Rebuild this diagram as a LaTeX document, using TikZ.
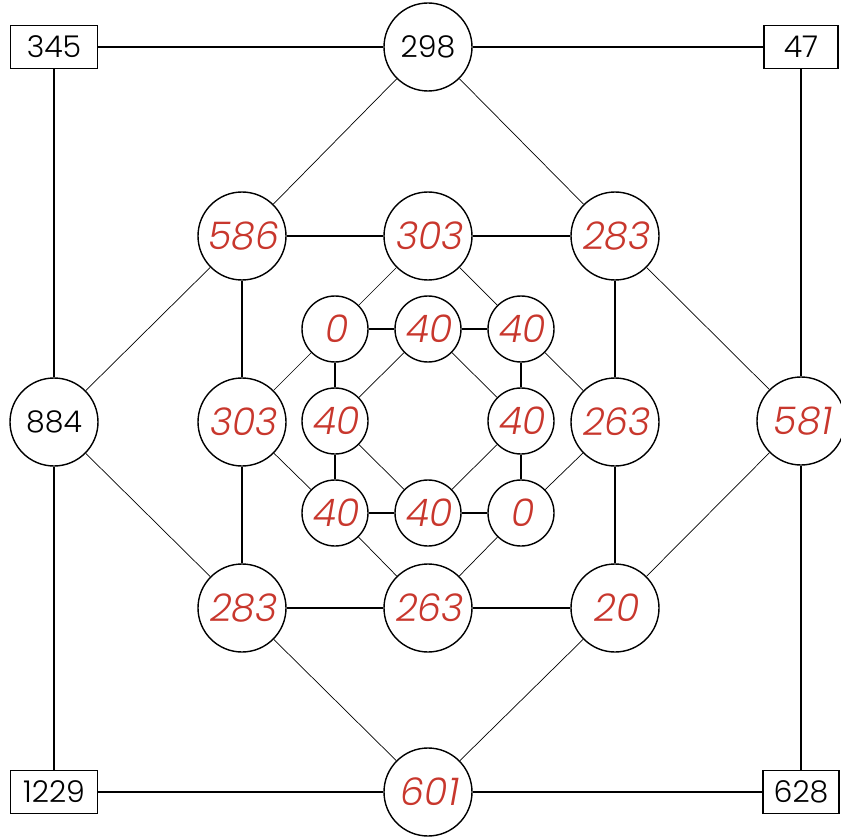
\documentclass[tikz,border=0pt]{standalone}
\usepackage{fontspec}
\setmainfont{Poppins Light}
\newfontfamily\redfnt{Poppins Light}[FakeSlant=0.18]
\definecolor{numred}{RGB}{200,55,45}
\tikzset{
  bignode/.style={circle,draw,line width=1.4pt,minimum size=88pt,inner sep=0pt},
  smallnode/.style={circle,draw,line width=1.4pt,minimum size=66pt,inner sep=0pt},
  boxnode/.style={draw,line width=1.4pt,minimum width=87pt,minimum height=43pt,inner sep=0pt,font=\fontsize{30}{32}\selectfont},
  blk/.style={font=\fontsize{30}{32}\selectfont},
  red/.style={text=numred,font=\redfnt\fontsize{38}{40}\selectfont},
  thick edge/.style={line width=1.5pt},
  thin edge/.style={line width=0.7pt}
}
\begin{document}
\begin{tikzpicture}[x=1pt,y=-1pt]
\useasboundingbox (0,0) rectangle (841,837);
% outer
\node[boxnode] (b345) at (54,47) {345};
\node[boxnode,minimum width=74pt] (b47) at (801,47) {47};
\node[boxnode] (b1229) at (54,792) {1229};
\node[boxnode,minimum width=76pt] (b628) at (801,792) {628};
\node[bignode,blk] (c298) at (428,47) {298};
\node[bignode,blk] (c884) at (54,422) {884};
\node[bignode,red] (c581) at (801,421) {581};
\node[bignode,red] (c601) at (428,792) {601};
% middle ring
\node[bignode,red] (m586) at (242,236) {586};
\node[bignode,red] (m303t) at (428,236) {303};
\node[bignode,red] (m283t) at (615,236) {283};
\node[bignode,red] (m303l) at (242,422) {303};
\node[bignode,red] (m263r) at (615,422) {263};
\node[bignode,red] (m283b) at (242,608) {283};
\node[bignode,red] (m263b) at (428,608) {263};
\node[bignode,red] (m20) at (615,608) {20};
% inner ring
\node[smallnode,red] (i0a) at (335,329) {0};
\node[smallnode,red] (i40t) at (428,329) {40};
\node[smallnode,red] (i40tr) at (521,329) {40};
\node[smallnode,red] (i40l) at (335,421) {40};
\node[smallnode,red] (i40r) at (521,421) {40};
\node[smallnode,red] (i40bl) at (335,513) {40};
\node[smallnode,red] (i40b) at (428,513) {40};
\node[smallnode,red] (i0b) at (521,513) {0};
% outer thick
\draw[thick edge] (b345) -- (c298);
\draw[thick edge] (c298) -- (b47);
\draw[thick edge] (b47) -- (c581);
\draw[thick edge] (c581) -- (b628);
\draw[thick edge] (b628) -- (c601);
\draw[thick edge] (c601) -- (b1229);
\draw[thick edge] (b1229) -- (c884);
\draw[thick edge] (c884) -- (b345);
% outer thin
\draw[thin edge] (c298) -- (m586);
\draw[thin edge] (c298) -- (m283t);
\draw[thin edge] (c884) -- (m586);
\draw[thin edge] (c884) -- (m283b);
\draw[thin edge] (c581) -- (m283t);
\draw[thin edge] (c581) -- (m20);
\draw[thin edge] (c601) -- (m283b);
\draw[thin edge] (c601) -- (m20);
% middle thick
\draw[thick edge] (m586) -- (m303t);
\draw[thick edge] (m303t) -- (m283t);
\draw[thick edge] (m283t) -- (m263r);
\draw[thick edge] (m263r) -- (m20);
\draw[thick edge] (m20) -- (m263b);
\draw[thick edge] (m263b) -- (m283b);
\draw[thick edge] (m283b) -- (m303l);
\draw[thick edge] (m303l) -- (m586);
% middle-inner thin
\draw[thin edge] (m303t) -- (i0a);
\draw[thin edge] (m303t) -- (i40tr);
\draw[thin edge] (m303l) -- (i0a);
\draw[thin edge] (m303l) -- (i40bl);
\draw[thin edge] (m263r) -- (i40tr);
\draw[thin edge] (m263r) -- (i0b);
\draw[thin edge] (m263b) -- (i40bl);
\draw[thin edge] (m263b) -- (i0b);
% inner thick
\draw[thick edge] (i0a) -- (i40t);
\draw[thick edge] (i40t) -- (i40tr);
\draw[thick edge] (i40tr) -- (i40r);
\draw[thick edge] (i40r) -- (i0b);
\draw[thick edge] (i0b) -- (i40b);
\draw[thick edge] (i40b) -- (i40bl);
\draw[thick edge] (i40bl) -- (i40l);
\draw[thick edge] (i40l) -- (i0a);
% inner thin
\draw[thin edge] (i40t) -- (i40l);
\draw[thin edge] (i40t) -- (i40r);
\draw[thin edge] (i40l) -- (i40b);
\draw[thin edge] (i40r) -- (i40b);
\end{tikzpicture}
\end{document}
